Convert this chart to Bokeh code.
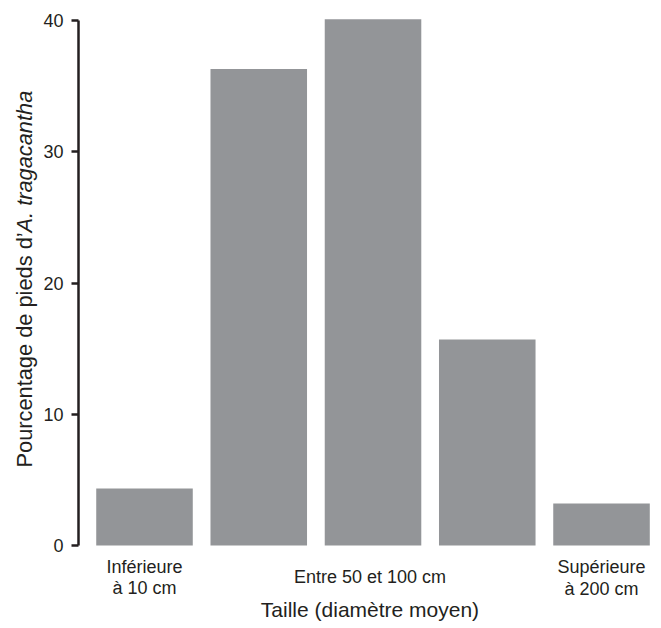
import math
from bokeh.plotting import figure
from bokeh.models import Range1d, FixedTicker
from bokeh.core.properties import value
from bokeh.embed import file_html
from bokeh.resources import INLINE

# Data
positions = [0, 1, 2, 3, 4]
values = [4.35, 36.3, 40.1, 15.7, 3.2]
y_ticks = [0, 10, 20, 30, 40]
x_title = "Taille (diamètre moyen)"
y_title_regular = "Pourcentage de pieds d’"
y_title_italic = "A. tragacantha"
low_label = ["Inférieure", "à 10 cm"]
mid_label = "Entre 50 et 100 cm"
high_label = ["Supérieure", "à 200 cm"]

BAR = "#939598"
INK = "#231f20"
FONT = "Liberation Sans"

# frame spans the whole canvas; axis is placed with fixed_location
AXIS_X = -0.578
p = figure(width=661, height=628, output_backend="svg", toolbar_location=None,
           x_range=Range1d(-1.2604, 4.525), y_range=Range1d(-6.324, 41.524),
           min_border=0)
p.outline_line_color = None
p.xgrid.visible = False
p.ygrid.visible = False
p.xaxis.visible = False

p.vbar(x=positions, top=values, bottom=0, width=0.845, fill_color=BAR, line_color=None)

ya = p.yaxis[0]
ya.fixed_location = AXIS_X
ya.ticker = FixedTicker(ticks=y_ticks)
ya.bounds = (0, 40)
ya.minor_tick_line_color = None
ya.axis_line_color = INK
ya.axis_line_width = 2.5
ya.major_tick_line_color = INK
ya.major_tick_line_width = 2.5
ya.major_tick_out = 7
ya.major_tick_in = 0
ya.major_label_standoff = 8
ya.major_label_text_font = FONT
ya.major_label_text_font_size = "18px"
ya.major_label_text_color = INK


def txt(text, x, y, dx=0, dy=0, size="18px", style="normal", angle=0, align="center"):
    p.text(x=[x], y=[y], text=[text], x_offset=dx, y_offset=dy, angle=angle,
           text_font=value(FONT), text_font_size=size, text_font_style=style,
           text_color=INK, text_align=align, text_baseline="middle")


# category labels (anchored at the bars' base, offset in pixels)
txt(low_label[0], positions[0], 0, dy=22)
txt(low_label[1], positions[0], 0, dy=43)
txt(high_label[0], positions[4], 0, dy=22)
txt(high_label[1], positions[4], 0, dy=44)
mid_x = (AXIS_X + p.x_range.end) / 2
txt(mid_label, mid_x, 0, dy=32)

# axis titles
txt(x_title, mid_x, 0, dy=64, size="21px")
txt(y_title_regular, AXIS_X, 0, dx=-54, dy=-78, size="21.8px", angle=math.pi / 2, align="left")
txt(y_title_italic, AXIS_X, 0, dx=-54, dy=-313, size="21.8px", style="italic",
    angle=math.pi / 2, align="left")

open("out.html", "w").write(file_html(p, INLINE))
